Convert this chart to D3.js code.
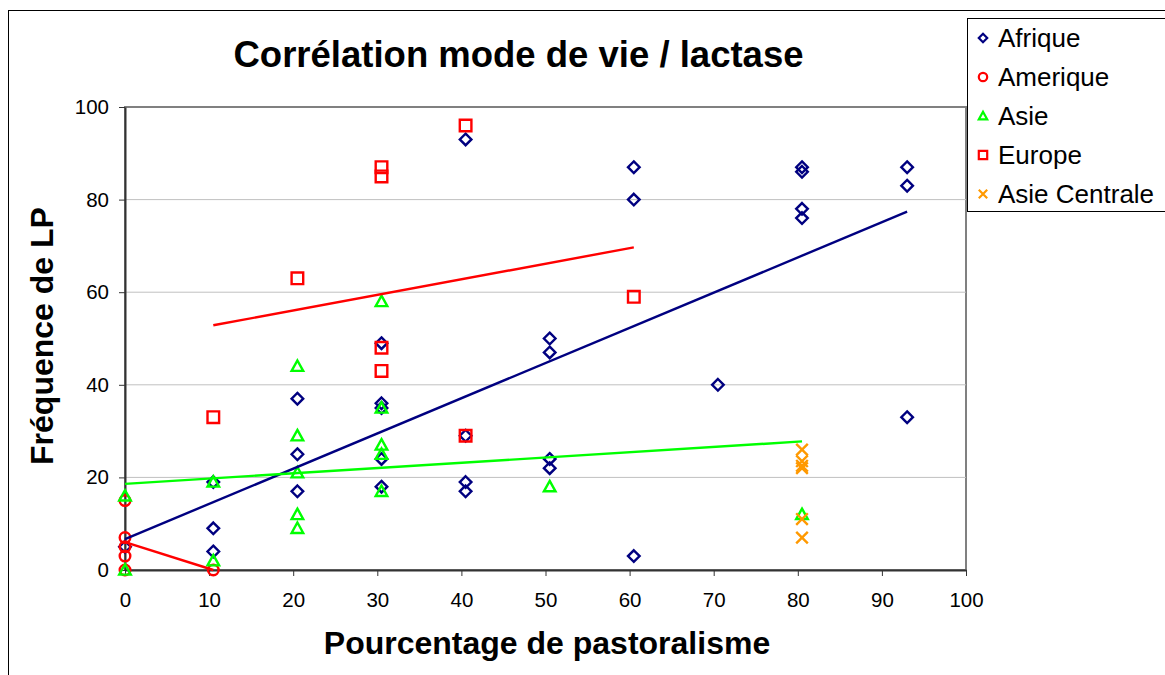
<!DOCTYPE html>
<html>
<head>
<meta charset="utf-8">
<script src="https://cdn.jsdelivr.net/npm/d3@7"></script>
<style>
  body { margin: 0; background: #fff; }
  svg { display: block; font-family: "Liberation Sans", Arial, sans-serif; }
</style>
</head>
<body>
<svg id="chart" width="1165" height="675"></svg>
<script>
// data: [pastoralisme %, fréquence LP]
const afrique = [
  [0, 5],
  [10.5, 19], [10.5, 9], [10.5, 4],
  [20.5, 37], [20.5, 25], [20.5, 17],
  [30.5, 49], [30.5, 36], [30.5, 35], [30.5, 24], [30.5, 18],
  [40.5, 93], [40.5, 29], [40.5, 19], [40.5, 17],
  [50.5, 50], [50.5, 47], [50.5, 24], [50.5, 22],
  [60.5, 87], [60.5, 80], [60.5, 3],
  [70.5, 40],
  [80.5, 87], [80.5, 86], [80.5, 78], [80.5, 76],
  [93, 87], [93, 83], [93, 33]
]
const amerique = [[0, 15], [0, 7], [0, 5], [0, 3], [0, 0], [10.5, 0]]
const asie = [
  [0, 16], [0, 0],
  [10.5, 19], [10.5, 2],
  [20.5, 44], [20.5, 29], [20.5, 21], [20.5, 12], [20.5, 9],
  [30.5, 58], [30.5, 35], [30.5, 27], [30.5, 25], [30.5, 17],
  [50.5, 18],
  [80.5, 12]
]
const europe = [
  [10.5, 33], [20.5, 63],
  [30.5, 87], [30.5, 85], [30.5, 48], [30.5, 43],
  [40.5, 96], [40.5, 29],
  [60.5, 59]
]
const asieCentrale = [[80.5, 26], [80.5, 23.5], [80.5, 22.5], [80.5, 22], [80.5, 11], [80.5, 7]]

const xTicks = [0, 10, 20, 30, 40, 50, 60, 70, 80, 90, 100]
const yTicks = [0, 20, 40, 60, 80, 100]

const series = [
  { name: 'Afrique', data: afrique, color: '#000080', shape: 'diamond', trend: true },
  { name: 'Amerique', data: amerique, color: '#ff0000', shape: 'circle', trend: true },
  { name: 'Asie', data: asie, color: '#00ff00', shape: 'triangle', trend: true },
  { name: 'Europe', data: europe, color: '#ff0000', shape: 'square', trend: true },
  { name: 'Asie Centrale', data: asieCentrale, color: '#ff9900', shape: 'cross', trend: false }
]

const svg = d3.select('#chart')
const x = d3.scaleLinear().domain([0, 100]).range([125, 966])
const y = d3.scaleLinear().domain([0, 100]).range([570, 107])

// marker outlines, s = half size
function marker(shape, s) {
  if (shape == 'diamond') return `M0,${-s}L${s},0L0,${s}L${-s},0Z`
  if (shape == 'square') return `M${-s},${-s}H${s}V${s}H${-s}Z`
  if (shape == 'triangle') return `M0,${-s}L${s},${s * 0.8}L${-s},${s * 0.8}Z`
  if (shape == 'cross') return `M${-s},${-s}L${s},${s}M${s},${-s}L${-s},${s}`
  return d3.arc()({ innerRadius: 0, outerRadius: s, startAngle: 0, endAngle: 2 * Math.PI })
}

// least squares line, as Excel's linear trendline
function trend(data) {
  let mx = d3.mean(data, d => d[0])
  let my = d3.mean(data, d => d[1])
  let sxy = d3.sum(data, d => (d[0] - mx) * (d[1] - my))
  let sxx = d3.sum(data, d => (d[0] - mx) ** 2)
  let b = sxy / sxx
  let a = my - b * mx
  let [x0, x1] = d3.extent(data, d => d[0])
  return [[x0, a + b * x0], [x1, a + b * x1]]
}

// outer frame
svg.append('rect')
  .attr('x', 8.5).attr('y', 10.5)
  .attr('width', 1200).attr('height', 700)
  .attr('fill', 'white').attr('stroke', 'black')

// plot area
svg.append('rect')
  .attr('x', x(0)).attr('y', y(100))
  .attr('width', x(100) - x(0)).attr('height', y(0) - y(100))
  .attr('fill', 'white').attr('stroke', '#808080').attr('stroke-width', 2)

svg.append('g')
  .selectAll('line')
  .data(yTicks.filter(t => t > 0 && t < 100))
  .join('line')
  .attr('x1', x(0)).attr('x2', x(100))
  .attr('y1', d => y(d)).attr('y2', d => y(d))
  .attr('stroke', '#c0c0c0')

const xAxis = svg.append('g')
  .attr('transform', `translate(0,${y(0)})`)
  .call(d3.axisBottom(x).tickValues(xTicks).tickSize(6).tickSizeOuter(0).tickPadding(16))
const yAxis = svg.append('g')
  .attr('transform', `translate(${x(0)},0)`)
  .call(d3.axisLeft(y).tickValues(yTicks).tickSize(6).tickSizeOuter(0).tickPadding(10))

for (let ax of [xAxis, yAxis]) {
  ax.select('.domain').attr('stroke', '#333').attr('stroke-width', 2)
  ax.selectAll('.tick line').attr('stroke', '#333')
  ax.selectAll('.tick text')
    .attr('font-family', '"Liberation Sans", Arial, sans-serif')
    .attr('font-size', 20.5).attr('fill', 'black')
}

// markers
for (let s of series) {
  svg.append('g')
    .selectAll('path')
    .data(s.data)
    .join('path')
    .attr('transform', d => `translate(${x(d[0])},${y(d[1])})`)
    .attr('d', marker(s.shape, s.shape == 'circle' ? 5.3 : 5.8))
    .attr('fill', 'none')
    .attr('stroke', s.color)
    .attr('stroke-width', 2.4)
}

// trendlines
for (let s of series.filter(d => d.trend)) {
  svg.append('path')
    .datum(trend(s.data))
    .attr('d', d3.line().x(d => x(d[0])).y(d => y(d[1])))
    .attr('fill', 'none')
    .attr('stroke', s.color)
    .attr('stroke-width', 2.4)
}

// titles
svg.append('text')
  .attr('x', 518.5).attr('y', 67)
  .attr('text-anchor', 'middle')
  .attr('font-size', 36.5).attr('font-weight', 'bold')
  .text('Corrélation mode de vie / lactase')

svg.append('text')
  .attr('x', 547).attr('y', 654)
  .attr('text-anchor', 'middle')
  .attr('font-size', 32).attr('font-weight', 'bold')
  .text('Pourcentage de pastoralisme')

svg.append('text')
  .attr('transform', 'translate(53,336) rotate(-90)')
  .attr('text-anchor', 'middle')
  .attr('font-size', 32).attr('font-weight', 'bold')
  .text('Fréquence de LP')

// legend
const legend = svg.append('g')
legend.append('rect')
  .attr('x', 967.5).attr('y', 18.5)
  .attr('width', 260).attr('height', 193)
  .attr('fill', 'white').attr('stroke', 'black')

const item = legend.selectAll('g.item')
  .data(series)
  .join('g')
  .attr('class', 'item')
  .attr('transform', (d, i) => `translate(983,${38 + i * 39})`)
item.append('path')
  .attr('d', d => marker(d.shape, 4.2))
  .attr('fill', 'none')
  .attr('stroke', d => d.color)
  .attr('stroke-width', 2.2)
item.append('text')
  .attr('x', 15).attr('dy', '0.36em')
  .attr('font-size', 26)
  .text(d => d.name)
</script>
</body>
</html>
